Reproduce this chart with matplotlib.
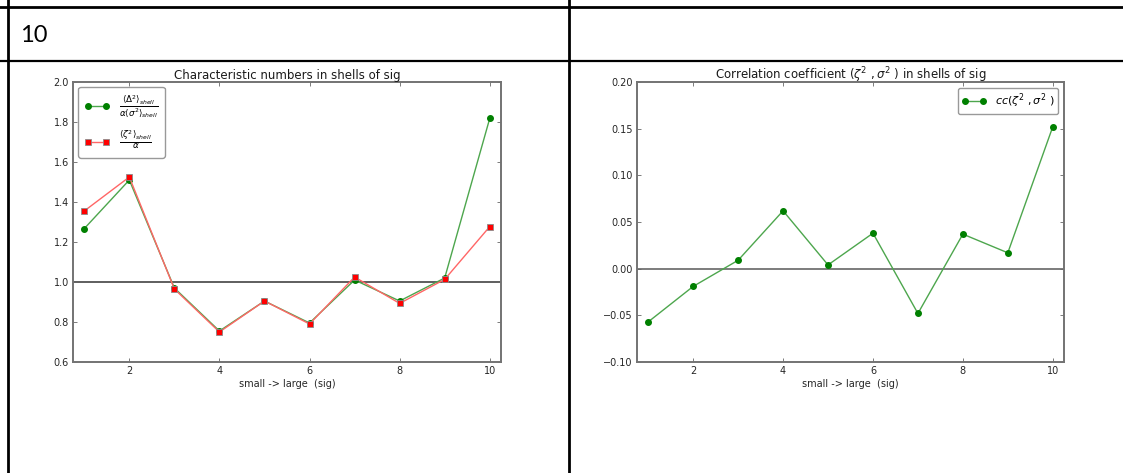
import matplotlib
matplotlib.use("Agg")
import matplotlib.pyplot as plt
from matplotlib.lines import Line2D

W, H = 1123, 473

# shells 1..10
shells = [1, 2, 3, 4, 5, 6, 7, 8, 9, 10]
delta_ratio = [1.267, 1.51, 0.97, 0.755, 0.905, 0.795, 1.01, 0.905, 1.02, 1.818]
zeta_ratio = [1.355, 1.525, 0.965, 0.75, 0.905, 0.79, 1.025, 0.893, 1.013, 1.277]
cc_values = [-0.057, -0.019, 0.009, 0.062, 0.004, 0.038, -0.048, 0.037, 0.017, 0.152]

left_ticks = [0.6, 0.8, 1.0, 1.2, 1.4, 1.6, 1.8, 2.0]
right_ticks = [-0.10, -0.05, 0.00, 0.05, 0.10, 0.15, 0.20]

fig = plt.figure(figsize=(W / 100, H / 100), dpi=100)
fig.patch.set_facecolor("white")


def px_axes(x0, y0, x1, y1):
    # pixel box (top-left origin) -> figure fraction rect
    return [x0 / W, 1 - y1 / H, (x1 - x0) / W, (y1 - y0) / H]


def hline(y, x0=0, x1=W, lw=2.0):
    fig.add_artist(Line2D([x0 / W, x1 / W], [1 - y / H, 1 - y / H],
                          color="black", lw=lw, transform=fig.transFigure))


def vline(x, y0=0, y1=H, lw=2.0):
    fig.add_artist(Line2D([x / W, x / W], [1 - y0 / H, 1 - y1 / H],
                          color="black", lw=lw, transform=fig.transFigure))


# table borders of the document
hline(7)
hline(61, lw=1.6)
vline(8)
vline(569)

fig.text(20 / W, 1 - 36 / H, "10", fontsize=17, family="Lato",
         ha="left", va="center", color="black")

green_line = (0.3, 0.65, 0.3)
red_line = (1.0, 0.4, 0.4)


def style_axes(ax, ticks, fmt):
    for s in ax.spines.values():
        s.set_color("0.45")
        s.set_linewidth(1.4)
    ax.set_xlim(0.75, 10.25)
    ax.set_xticks([2, 4, 6, 8, 10])
    ax.set_yticks(ticks)
    ax.set_yticklabels([fmt.format(t) for t in ticks])
    ax.tick_params(labelsize=7, length=3, width=0.6, color="0.4",
                   direction="in", top=True, right=True, labelcolor="0.15", pad=3)
    ax.set_xlabel("small -> large  (sig)", fontsize=7, labelpad=2, color="0.15")


# left chart
ax1 = fig.add_axes(px_axes(73, 82, 501, 362))
ax1.axhline(1.0, color="0.2", lw=1.1, zorder=1)
ax1.plot(shells, delta_ratio, "-o", color=green_line, lw=1.0, ms=4,
         mfc="green", mec="green", zorder=3,
         label=r"$\frac{\langle\Delta^2\rangle_{shell}}{\alpha\langle\sigma^2\rangle_{shell}}$")
ax1.plot(shells, zeta_ratio, "-s", color=red_line, lw=1.0, ms=4,
         mfc="red", mec="0.55", mew=0.6, zorder=4,
         label=r"$\frac{\langle\zeta^2\rangle_{shell}}{\alpha}$")
ax1.set_ylim(0.6, 2.0)
style_axes(ax1, left_ticks, "{:.1f}")
ax1.set_title("Characteristic numbers in shells of sig", fontsize=8.5, pad=2, color="0.1")
leg1 = ax1.legend(loc="upper left", numpoints=2, fontsize=9, handlelength=2.0,
                  labelspacing=0.7, borderpad=0.5, fancybox=True, framealpha=1,
                  borderaxespad=0.4)
leg1.get_frame().set_edgecolor("0.6")

# right chart
ax2 = fig.add_axes(px_axes(637, 82, 1064, 362))
ax2.axhline(0.0, color="0.35", lw=1.1, zorder=1)
ax2.plot(shells, cc_values, "-o", color=green_line, lw=1.0, ms=4,
         mfc="green", mec="green", zorder=3,
         label=r"$cc(\zeta^2\ ,\sigma^2\ )$")
ax2.set_ylim(-0.10, 0.20)
style_axes(ax2, right_ticks, "{:.2f}")
ax2.set_yticklabels([("\u2212" if t < 0 else "") + "{:.2f}".format(abs(t)) for t in right_ticks])
ax2.set_title(r"Correlation coefficient $(\zeta^2\ ,\sigma^2\ )$ in shells of sig",
              fontsize=8.5, pad=2, color="0.1")
leg2 = ax2.legend(loc="upper right", numpoints=2, fontsize=8, handlelength=2.2,
                  borderpad=0.35, fancybox=True, framealpha=1, borderaxespad=0.5)
leg2.get_frame().set_edgecolor("0.6")

fig.savefig("out.png", dpi=100)
